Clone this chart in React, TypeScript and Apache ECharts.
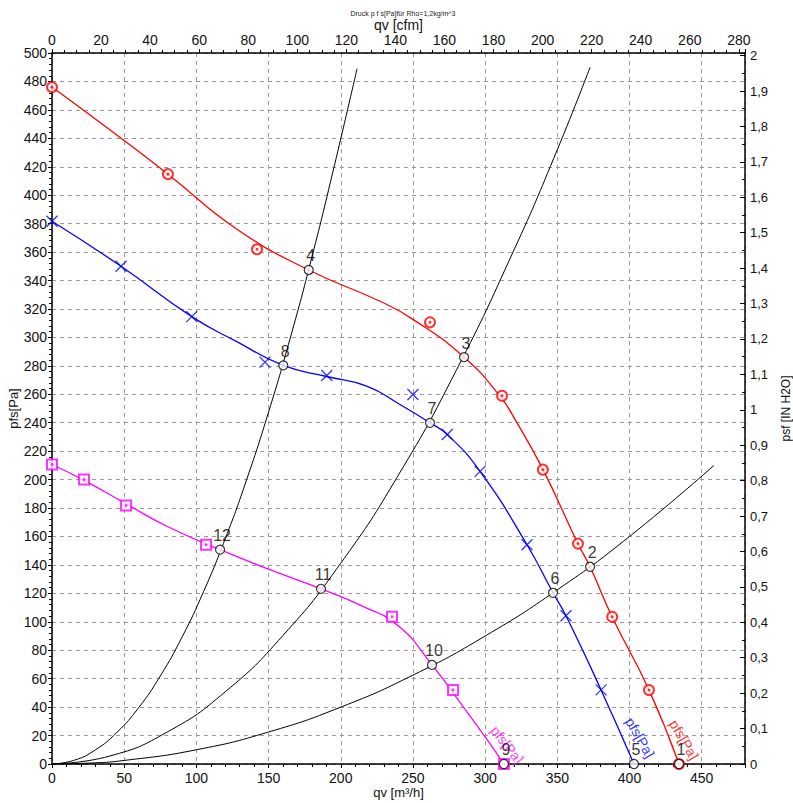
import React, { useEffect, useRef } from "react";
import * as echarts from "echarts";

// ---- data (qv in m³/h, pressure in Pa) ----
const redCurveX = [0, 40, 80.3, 128.1, 177.8, 227.2, 250, 285.4, 310.3, 320.7, 340.1, 364.3, 372.7, 387.9, 413.5, 434.3];
const redCurveY = [476.1, 446, 414.8, 376.1, 347.4, 325.4, 312.7, 286.1, 258.7, 242.3, 207, 154.9, 138.7, 103.5, 52.1, 0];
const redMarkX = [0, 80.3, 142, 261.8, 311.7, 340, 364.3, 388, 413.5, 434.3];
const redMarkY = [476, 414.8, 362, 310.6, 259, 207, 155, 103.5, 52, 0];

const blueCurveX = [0, 47.8, 96.8, 128, 160.2, 190.3, 218, 241, 261.8, 273.8, 296.5, 329, 347, 356, 380.3, 403.1];
const blueCurveY = [381.7, 350, 314.6, 297, 280.3, 272.5, 265.7, 252.8, 239.9, 231.7, 205.8, 154.2, 120.4, 104.2, 52.1, 0];
const blueMarkX = [0, 47.8, 96.8, 147.5, 190.3, 250, 273.8, 296.5, 329, 356, 380.3];
const blueMarkY = [381.7, 350, 314.6, 282.6, 273.2, 259.9, 231.7, 205.8, 154.2, 104.2, 52.1];

const magCurveX = [0, 22.2, 51.3, 80, 116.4, 150, 186.3, 215, 240, 263.2, 285, 300, 313];
const magCurveY = [210.6, 199.5, 183, 167, 150.7, 137, 123.2, 111, 97, 69.7, 40, 19, 0];
const magMarkX = [0, 22.2, 51.3, 106.7, 235.5, 277.8, 313];
const magMarkY = [210.6, 200, 181.7, 154.2, 103.5, 52.1, 0];

const sysAX = [0, 15, 30, 45, 60, 75, 90, 105, 120, 135, 150, 165, 180, 195, 211.3];
const sysAY = [0, 2.5, 9.9, 22.3, 39.6, 61.9, 89.1, 121.3, 158.4, 200.5, 247.5, 299.5, 356.4, 418.3, 489];
const sysBX = [0, 40, 80, 120, 160, 200, 240, 280, 320, 350, 372.7];
const sysBY = [0, 5.6, 22.6, 50.8, 90.4, 141.2, 203.3, 276.8, 361.5, 432, 490];
const sysCX = [0, 25, 50, 100, 150, 200, 250, 300, 350, 400, 458.5];
const sysCY = [0, 0.6, 2.5, 10, 22.5, 40, 62.5, 90, 122.5, 160, 210];

const opNames = ["1", "2", "3", "4", "5", "6", "7", "8", "9", "10", "11", "12"];
const opX = [434.3, 372.7, 285.4, 177.8, 403.1, 347, 261.8, 160.2, 313, 263.2, 186.3, 116.4];
const opY = [0, 138.7, 286.1, 347.4, 0, 120.4, 239.9, 280.3, 0, 69.7, 123.2, 150.7];

const curveLabelText = "pfs[Pa]";
const curveLabelX = [437.8, 407.3, 315.2];
const curveLabelY = [17, 18.5, 13.5];

const QV_MAX = 480;
const PA_MAX = 500;
const M3H_PER_CFM = 1.699;
const PA_PER_INH2O = 249.089;

const FONT = "'Liberation Sans', Arial, sans-serif";
const RED = "#ff0000";
const BLUE = "#0000ff";
const MAG = "#ff00ff";

const zip = (xs: number[], ys: number[]) => xs.map((x, i) => [x, ys[i]]);

export default function App() {
  const ref = useRef<HTMLDivElement>(null);
  useEffect(() => {
    if (!ref.current) return;
    const chart = echarts.init(ref.current, null, { renderer: "svg" });
    const sysLine = (xs: number[], ys: number[]) => ({
      type: "line",
      data: zip(xs, ys),
      smooth: 0.5,
      showSymbol: false,
      symbol: "none",
      lineStyle: { color: "#000", width: 1 },
      z: 2,
    });
    const fanLine = (xs: number[], ys: number[], color: string) => ({
      type: "line",
      data: zip(xs, ys),
      smooth: 0.5,
      showSymbol: false,
      symbol: "none",
      lineStyle: { color, width: 1.3 },
      z: 3,
    });
    const dots = (xs: number[], ys: number[], color: string) => ({
      type: "scatter",
      data: zip(xs, ys),
      symbol: "circle",
      symbolSize: 3,
      itemStyle: { color },
      z: 5,
    });
    const curveLabel = (i: number, color: string, rot: number) => ({
      type: "scatter",
      data: [[curveLabelX[i], curveLabelY[i]]],
      symbolSize: 0.1,
      itemStyle: { color: "transparent" },
      label: {
        show: true,
        position: "inside",
        formatter: curveLabelText,
        rotate: rot,
        color,
        fontSize: 14,
        fontFamily: FONT,
      },
      z: 6,
    });
    chart.setOption({
      animation: false,
      backgroundColor: "#fff",
      title: {
        text: "Druck p f s[Pa]für Rho=1,2kg/m^3",
        left: 398,
        top: 5,
        textAlign: "center",
        textStyle: { fontSize: 7, fontWeight: "normal", color: "#222", fontFamily: FONT },
      },
      grid: { left: 52, right: 48, top: 53, bottom: 39, containLabel: false, outerBoundsMode: "none" },
      xAxis: [
        {
          type: "value",
          position: "bottom",
          min: 0,
          max: QV_MAX,
          interval: 50,
          name: "qv [m³/h]",
          nameLocation: "middle",
          nameGap: 22,
          nameMoveOverlap: false,
          nameTextStyle: { fontSize: 13, color: "#111", fontFamily: FONT },
          axisLine: { show: true, onZero: false, lineStyle: { color: "#000", width: 1.5 } },
          axisTick: { show: true, length: 4, lineStyle: { color: "#000" } },
          minorTick: { show: true, splitNumber: 5, length: 3, lineStyle: { color: "#000" } },
          axisLabel: {
            margin: 7,
            fontSize: 14,
            color: "#111",
            fontFamily: FONT,
            formatter: (v: number) => (Math.abs(v % 50) < 1e-6 ? String(v) : ""),
          },
          splitLine: { show: true, lineStyle: { color: "#999", type: [4, 4], width: 1 } },
        },
        {
          type: "value",
          position: "top",
          min: 0,
          max: QV_MAX / M3H_PER_CFM,
          interval: 20,
          name: "qv [cfm]",
          nameLocation: "middle",
          nameGap: 21,
          nameMoveOverlap: false,
          nameTextStyle: { fontSize: 14, color: "#111", fontFamily: FONT },
          axisLine: { show: true, onZero: false, lineStyle: { color: "#000", width: 1.5 } },
          axisTick: { show: true, length: 4, lineStyle: { color: "#000" } },
          minorTick: { show: true, splitNumber: 4, length: 3, lineStyle: { color: "#000" } },
          axisLabel: {
            margin: 6,
            fontSize: 14,
            color: "#111",
            fontFamily: FONT,
            formatter: (v: number) => (Math.abs(v % 20) < 1e-6 ? String(v) : ""),
          },
          splitLine: { show: false },
        },
      ],
      yAxis: [
        {
          type: "value",
          position: "left",
          min: 0,
          max: PA_MAX,
          interval: 20,
          name: "pfs[Pa]",
          nameLocation: "middle",
          nameGap: 32,
          nameMoveOverlap: false,
          nameRotate: 90,
          nameTextStyle: { fontSize: 13, color: "#111", fontFamily: FONT },
          axisLine: { show: true, onZero: false, lineStyle: { color: "#000", width: 1.5 } },
          axisTick: { show: true, length: 4, lineStyle: { color: "#000" } },
          minorTick: { show: true, splitNumber: 5, length: 3, lineStyle: { color: "#000" } },
          axisLabel: { margin: 5, fontSize: 14, color: "#111", fontFamily: FONT },
          splitLine: { show: true, lineStyle: { color: "#999", type: [4, 4], width: 1 } },
        },
        {
          type: "value",
          position: "right",
          min: 0,
          max: PA_MAX / PA_PER_INH2O,
          interval: 0.1,
          name: "psf [IN H2O]",
          nameLocation: "middle",
          nameGap: 35,
          nameMoveOverlap: false,
          nameRotate: 90,
          nameTextStyle: { fontSize: 12, color: "#111", fontFamily: FONT },
          axisLine: { show: true, onZero: false, lineStyle: { color: "#000", width: 1.5 } },
          axisTick: { show: true, inside: true, length: 5, lineStyle: { color: "#000" } },
          minorTick: { show: true, splitNumber: 2, length: 3, lineStyle: { color: "#000" } },
          axisLabel: {
            margin: 5,
            fontSize: 13,
            color: "#111",
            fontFamily: FONT,
            formatter: (v: number) => {
              const t = v * 10;
              if (Math.abs(t - Math.round(t)) > 1e-4) return "";
              return String(Math.round(t) / 10).replace(".", ",");
            },
          },
          splitLine: { show: false },
        },
      ],
      series: [
        sysLine(sysAX, sysAY),
        sysLine(sysBX, sysBY),
        sysLine(sysCX, sysCY),
        fanLine(redCurveX, redCurveY, RED),
        fanLine(blueCurveX, blueCurveY, BLUE),
        fanLine(magCurveX, magCurveY, MAG),
        {
          type: "scatter",
          data: zip(redMarkX, redMarkY),
          symbol: "emptyCircle",
          symbolSize: 10,
          itemStyle: { color: RED, borderColor: RED, borderWidth: 1.2 },
          z: 4,
        },
        dots(redMarkX, redMarkY, RED),
        {
          type: "scatter",
          data: zip(blueMarkX, blueMarkY),
          symbol: "path://M0,0L10,10M10,0L0,10",
          symbolSize: 11,
          itemStyle: { color: "none", borderColor: BLUE, borderWidth: 1.3 },
          z: 4,
        },
        {
          type: "scatter",
          data: zip(magMarkX, magMarkY),
          symbol: "emptyRect",
          symbolSize: 10,
          itemStyle: { color: MAG, borderColor: MAG, borderWidth: 1.2 },
          z: 4,
        },
        dots(magMarkX, magMarkY, MAG),
        curveLabel(0, RED, -60),
        curveLabel(1, BLUE, -60),
        curveLabel(2, MAG, -52),
        {
          type: "scatter",
          data: opX.map((x, i) => ({ name: opNames[i], value: [x, opY[i]] })),
          symbol: "circle",
          symbolSize: 9,
          itemStyle: { color: "#fff", borderColor: "#000", borderWidth: 1.2 },
          label: {
            show: true,
            position: "top",
            distance: 1,
            offset: [2, 0],
            formatter: "{b}",
            fontSize: 16,
            color: "#000",
            fontFamily: FONT,
          },
          z: 8,
        },
      ],
    });
    return () => chart.dispose();
  }, []);
  return <div ref={ref} style={{ position: "fixed", left: 0, top: 0, width: 793, height: 803 }} />;
}
